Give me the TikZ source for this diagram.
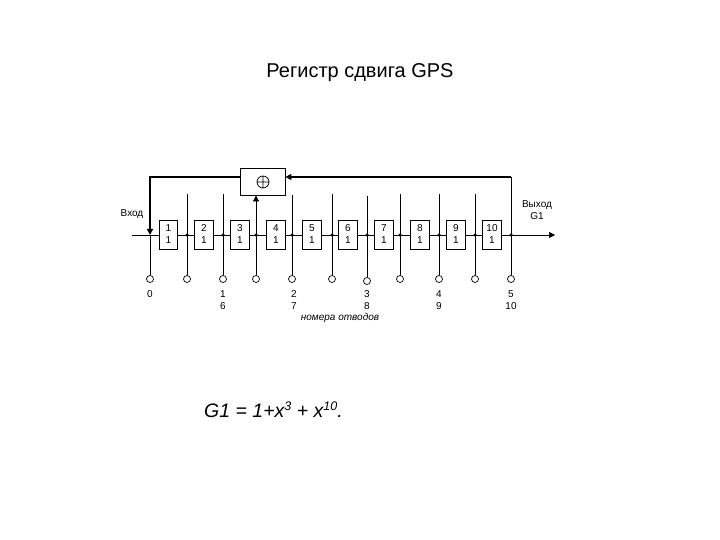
\documentclass[tikz,border=0pt]{standalone}
\usepackage{fontspec}
\setmainfont{Liberation Sans}
\usetikzlibrary{arrows.meta}
\tikzset{
 regbox/.style={draw,line width=0.7pt,minimum width=18.5pt,minimum height=29pt,inner sep=0pt,align=center,font=\fontsize{10}{12}\selectfont},
 addbox/.style={draw,line width=0.8pt,minimum width=45pt,minimum height=27pt,inner sep=0pt},
 tapc/.style={draw,circle,fill=white,line width=0.7pt,minimum size=7pt,inner sep=0pt},
 dotj/.style={fill,circle,minimum size=3.5pt,inner sep=0pt},
 lab/.style={inner sep=0pt,align=center,font=\fontsize{10}{12}\selectfont},
 thinl/.style={line width=0.7pt},
 boldl/.style={line width=1.8pt},
 tip/.style={-{Triangle[length=6pt,width=6pt]}}
}
\newcommand{\supr}[1]{\raisebox{7pt}{\fontsize{12.5}{12.5}\selectfont #1}}
\begin{document}
\begin{tikzpicture}[x=1pt,y=-1pt]
\useasboundingbox (0,0) rectangle (720,540);
\fill[white] (0,0) rectangle (720,540);
\node[inner sep=0pt,font=\fontsize{20}{24}\selectfont] (title) at (360,72.5) {Регистр сдвига GPS};
% input / output ends
\coordinate (in) at (132,235);
\coordinate (out) at (555,235);
% junctions
\foreach \n/\x in {0/150,1/187,2/223,3/256,4/292,5/332,6/367,7/400,8/439,9/475,10/511}{
  \coordinate (j\n) at (\x,235);
}
\draw[thinl,tip] (in) -- (out);
% registers
\foreach \n/\x in {1/168.5,2/204,3/240,4/276,5/312,6/348,7/384,8/420,9/456,10/492}{
  \node[regbox,fill=white] (b\n) at (\x,234.5) {\n\\1};
}
% adder
\node[addbox] (add) at (262.5,181.5) {};
\draw[line width=0.7pt] (263,182) circle (6pt) (257,182) -- (269,182) (263,176) -- (263,188);
% taps
\foreach \n/\x/\t/\b in {1/187/194/279,2/223/194/279,4/292/195/279,5/332/194/279,6/367/196/281,7/400/194/279,8/439/194/279,9/475/194/279}{
  \node[tapc] (c\n) at (\x,\b) {};
  \coordinate (t\n) at (\x,\t);
  \draw[thinl] (t\n) -- (c\n);
  \node[dotj] at (j\n) {};
}
\node[tapc] (c3) at (256,279) {};
\draw[thinl,tip] (c3) -- (add.south -| c3);
\node[dotj] at (j3) {};
\node[tapc] (c0) at (150,279) {};
\draw[thinl] (j0) -- (c0);
\node[tapc] (c10) at (511,279) {};
\coordinate (fbr) at (511,177);
\draw[thinl] (fbr) -- (c10);
\node[dotj] at (j10) {};
% feedback
\coordinate (fbl) at (150,177);
\draw[boldl,tip] (fbr) -- (add.east |- fbr);
\draw[boldl,tip] (add.west |- fbl) -- (fbl) -- (j0);
% labels
\node[lab] (vhod) at (132,214) {Вход};
\node[lab] (vyhod) at (537,210) {Выход\\G1};
\node[lab] at (150,294) {0};
\node[lab] at (223,300) {1\\6};
\node[lab] at (294,300) {2\\7};
\node[lab] at (367,300) {3\\8};
\node[lab] at (439,300) {4\\9};
\node[lab] at (511,300) {5\\10};
\node[lab,font=\fontsize{10}{12}\selectfont\itshape] at (340,318) {номера отводов};
\node[inner sep=0pt,anchor=base west,font=\fontsize{19.5}{22}\selectfont\itshape] (formula) at (204,417) {G1 = 1+x\supr{3} + x\supr{10}.};
\end{tikzpicture}
\end{document}
